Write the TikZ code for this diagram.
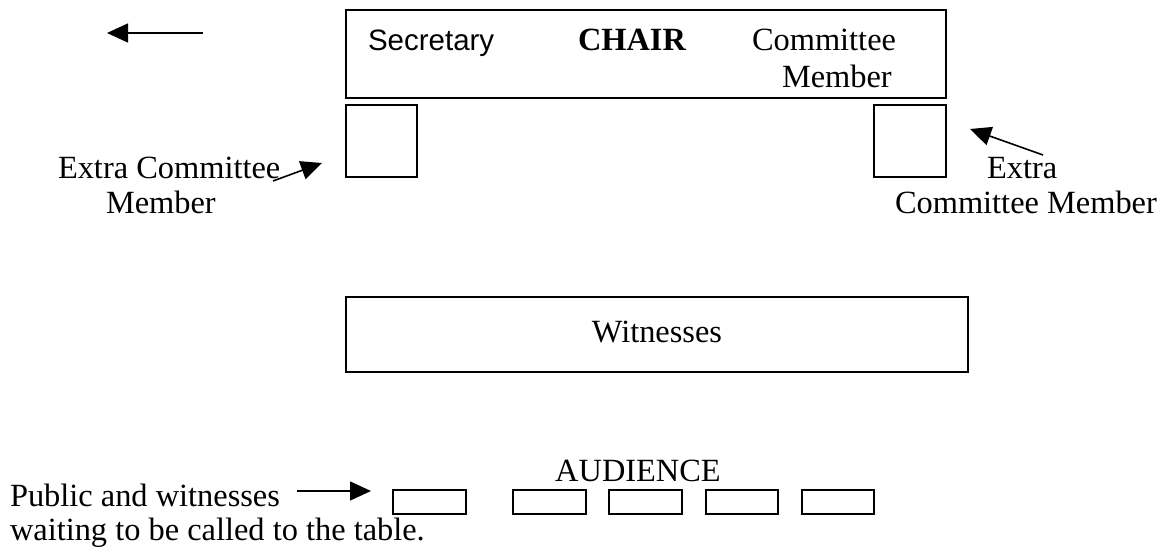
\documentclass[tikz,border=0pt]{standalone}
\usepackage{fontspec}
\setmainfont{Liberation Serif}
\newfontfamily\arialfont{Liberation Sans}
\usetikzlibrary{arrows.meta}
\tikzset{
  box/.style={draw, line width=1.9pt, rectangle, inner sep=0pt, outer sep=0pt, anchor=north west},
  lbl/.style={inner sep=0pt, outer sep=0pt, anchor=base west, font=\fontsize{32.4}{36}\selectfont},
  slbl/.style={inner sep=0pt, outer sep=0pt, anchor=base west, font=\arialfont\fontsize{29.5}{34}\selectfont},
  arr/.style={line width=1.6pt, -{Triangle[length=21pt,width=19pt]}}
}
\begin{document}
\begin{tikzpicture}[x=1pt,y=-1pt]
\useasboundingbox (0,0) rectangle (1163,548);
% top-left arrow
\coordinate (dirS) at (203,33);
\coordinate (dirE) at (107,33);
\draw[arr] (dirS) -- (dirE);
% committee table
\node[box, minimum width=600pt, minimum height=88pt] (table) at (346,10) {};
\node[slbl] (sec) at (368,51) {Secretary};
\node[lbl] (chair) at (578,51) {\bfseries CHAIR};
\node[lbl] (cm1) at (752,51) {Committee};
\node[lbl] (cm2) at (782,88) {Member};
% extra member seats
\node[box, minimum width=71pt, minimum height=72pt] (seatL) at (346,105) {};
\node[box, minimum width=72pt, minimum height=72pt] (seatR) at (874,105) {};
% left label
\node[lbl] (exL1) at (58,179) {Extra Committee};
\node[lbl] (exL2) at (106,214) {Member};
\coordinate (exLt) at (273,181);
\coordinate (exLh) at (322,163);
\draw[arr] (exLt) -- (exLh);
% right label
\node[lbl] (exR1) at (987,179) {Extra};
\node[lbl] (exR2) at (895,214) {Committee Member};
\coordinate (exRt) at (1043,155);
\coordinate (exRh) at (970,129);
\draw[arr] (exRt) -- (exRh);
% witnesses table
\node[box, minimum width=622pt, minimum height=75pt] (wit) at (346,297) {};
\node[lbl, anchor=base] (witl) at (657,342) {Witnesses};
% audience
\node[lbl, anchor=base] (aud) at (638,481) {AUDIENCE};
\node[box, minimum width=73pt, minimum height=24pt] (c1) at (393,490) {};
\node[box, minimum width=73pt, minimum height=24pt] (c2) at (513,490) {};
\node[box, minimum width=73pt, minimum height=24pt] (c3) at (609,490) {};
\node[box, minimum width=72pt, minimum height=24pt] (c4) at (706,490) {};
\node[box, minimum width=72pt, minimum height=24pt] (c5) at (802,490) {};
\node[lbl] (pub1) at (10,506) {Public and witnesses};
\node[lbl] (pub2) at (10,540) {waiting to be called to the table.};
\coordinate (pubS) at (297,491);
\coordinate (pubE) at (371,491);
\draw[arr] (pubS) -- (pubE);
\end{tikzpicture}
\end{document}
